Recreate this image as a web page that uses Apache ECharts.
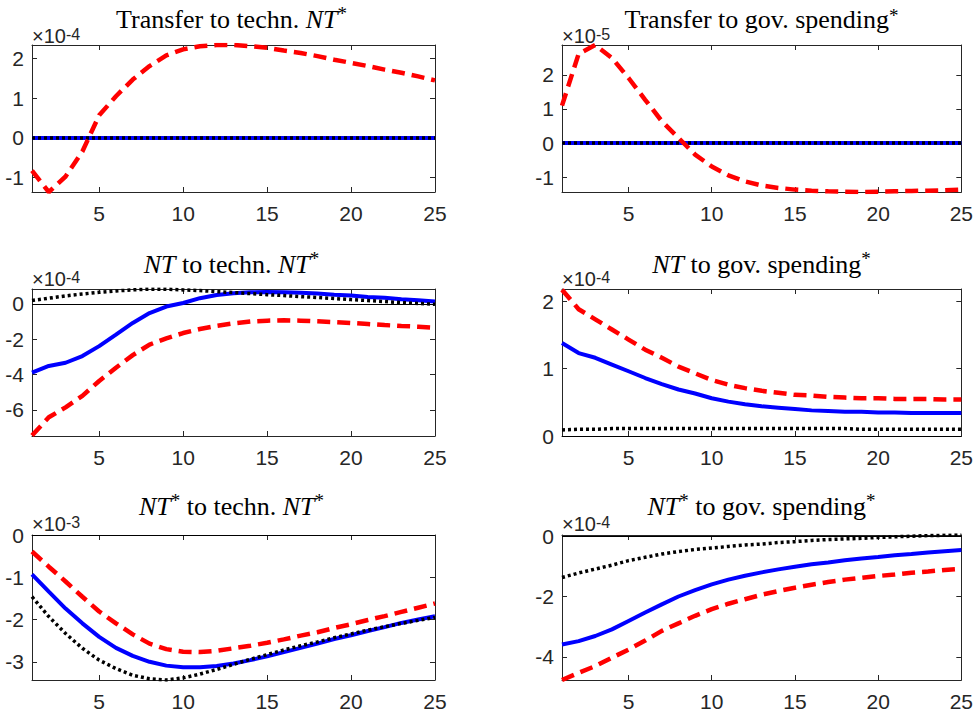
<!DOCTYPE html>
<html><head><meta charset="utf-8">
<script src="https://cdn.jsdelivr.net/npm/echarts@6/dist/echarts.min.js"></script>
<style>html,body{margin:0;padding:0;background:#fff;}#c{width:976px;height:720px;}</style>
</head><body><div id="c"></div>
<script>
// ---- data (values in units of the panel exponent) ----
const periods = [1,2,3,4,5,6,7,8,9,10,11,12,13,14,15,16,17,18,19,20,21,22,23,24,25];
const xTicks = [5,10,15,20,25];

const titles = [
  'Transfer to techn. {i|NT}{s|*}',
  'Transfer to gov. spending{s|*}',
  '{i|NT} to techn. {i|NT}{s|*}',
  '{i|NT} to gov. spending{s|*}',
  '{i|NT}{s|*} to techn. {i|NT}{s|*}',
  '{i|NT}{s|*} to gov. spending{s|*}'
];
const exponents = ['-4','-5','-4','-4','-3','-4'];
const yTicks = [[-1,0,1,2],[-1,0,1,2],[-6,-4,-2,0],[0,1,2],[-3,-2,-1,0],[-4,-2,0]];
const yMin = [-1.36,-1.44,-7.47,0,-3.43,-4.77];
const yMax = [2.34,2.88,0.84,2.18,0,0.04];

// Panel 1: Transfer to techn. NT*
const p1Red   = [-0.82,-1.36,-0.97,-0.34,0.57,1.05,1.47,1.81,2.08,2.23,2.31,2.34,2.34,2.31,2.27,2.2,2.14,2.06,1.97,1.89,1.81,1.72,1.64,1.55,1.45];
const p1Blue  = [0,0,0,0,0,0,0,0,0,0,0,0,0,0,0,0,0,0,0,0,0,0,0,0,0];
const p1Black = [0,0,0,0,0,0,0,0,0,0,0,0,0,0,0,0,0,0,0,0,0,0,0,0,0];
// Panel 2: Transfer to gov. spending*
const p2Red   = [1.1,2.62,2.88,2.5,1.91,1.27,0.64,0.15,-0.34,-0.69,-0.95,-1.13,-1.25,-1.32,-1.37,-1.4,-1.42,-1.43,-1.44,-1.43,-1.42,-1.41,-1.4,-1.39,-1.37];
const p2Blue  = [0,0,0,0,0,0,0,0,0,0,0,0,0,0,0,0,0,0,0,0,0,0,0,0,0];
const p2Black = [0,0,0,0,0,0,0,0,0,0,0,0,0,0,0,0,0,0,0,0,0,0,0,0,0];
// Panel 3: NT to techn. NT*
const p3Red   = [-7.44,-6.41,-5.85,-5.2,-4.36,-3.61,-2.9,-2.3,-1.95,-1.65,-1.42,-1.24,-1.1,-1.0,-0.95,-0.93,-0.95,-0.99,-1.03,-1.08,-1.14,-1.2,-1.25,-1.29,-1.35];
const p3Blue  = [-3.89,-3.51,-3.33,-2.95,-2.39,-1.74,-1.08,-0.52,-0.15,0.05,0.32,0.5,0.6,0.65,0.67,0.65,0.63,0.58,0.52,0.47,0.39,0.34,0.26,0.2,0.13];
const p3Black = [0.19,0.32,0.45,0.56,0.65,0.73,0.79,0.83,0.83,0.79,0.75,0.69,0.64,0.58,0.52,0.47,0.41,0.36,0.3,0.24,0.19,0.13,0.07,0.02,-0.02];
// Panel 4: NT to gov. spending*
const p4Red   = [2.17,1.88,1.73,1.58,1.43,1.28,1.16,1.03,0.93,0.83,0.76,0.71,0.67,0.64,0.61,0.6,0.58,0.57,0.56,0.56,0.55,0.55,0.55,0.54,0.54];
const p4Blue  = [1.38,1.23,1.16,1.06,0.96,0.86,0.77,0.69,0.63,0.56,0.51,0.47,0.44,0.42,0.4,0.38,0.37,0.36,0.36,0.35,0.35,0.34,0.34,0.34,0.34];
const p4Black = [0.09,0.1,0.1,0.11,0.11,0.11,0.11,0.11,0.11,0.11,0.11,0.11,0.11,0.11,0.11,0.11,0.11,0.11,0.1,0.1,0.1,0.1,0.1,0.1,0.1];
// Panel 5: NT* to techn. NT*  (x 1e-3)
const p5Red   = [-0.39,-0.75,-1.1,-1.46,-1.81,-2.09,-2.35,-2.57,-2.7,-2.76,-2.77,-2.74,-2.68,-2.62,-2.55,-2.47,-2.38,-2.3,-2.2,-2.11,-2.01,-1.92,-1.82,-1.72,-1.62];
const p5Blue  = [-0.93,-1.34,-1.74,-2.09,-2.41,-2.67,-2.86,-3.0,-3.09,-3.13,-3.13,-3.1,-3.04,-2.96,-2.87,-2.77,-2.67,-2.57,-2.46,-2.37,-2.27,-2.18,-2.08,-2.0,-1.92];
const p5Black = [-1.46,-1.93,-2.33,-2.68,-2.96,-3.16,-3.32,-3.4,-3.43,-3.38,-3.29,-3.18,-3.06,-2.94,-2.83,-2.72,-2.62,-2.53,-2.43,-2.34,-2.25,-2.17,-2.09,-2.02,-1.95];
// Panel 6: NT* to gov. spending*
const p6Red   = [-4.77,-4.53,-4.31,-4.03,-3.76,-3.46,-3.14,-2.89,-2.64,-2.42,-2.24,-2.09,-1.94,-1.82,-1.71,-1.61,-1.52,-1.44,-1.38,-1.32,-1.27,-1.21,-1.17,-1.12,-1.08];
const p6Blue  = [-3.59,-3.48,-3.31,-3.09,-2.81,-2.53,-2.26,-2.0,-1.79,-1.6,-1.44,-1.31,-1.2,-1.1,-1.01,-0.93,-0.87,-0.8,-0.74,-0.69,-0.63,-0.59,-0.54,-0.5,-0.46];
const p6Black = [-1.37,-1.22,-1.09,-0.96,-0.81,-0.7,-0.59,-0.51,-0.44,-0.39,-0.34,-0.29,-0.26,-0.21,-0.18,-0.14,-0.11,-0.09,-0.07,-0.04,-0.02,0,0.02,0.03,0.04];

const reds   = [p1Red,p2Red,p3Red,p4Red,p5Red,p6Red];
const blues  = [p1Blue,p2Blue,p3Blue,p4Blue,p5Blue,p6Blue];
const blacks = [p1Black,p2Black,p3Black,p4Black,p5Black,p6Black];

// ---- layout & style ----
const AX = '#262626';
const SANS = "'Liberation Sans Narrow','Liberation Sans',Arial,sans-serif";
const SERIF = "'Liberation Serif','Times New Roman',serif";
const grids = [
  {left:32, top:45, width:403, height:147},
  {left:562, top:45, width:403, height:147},
  {left:32, top:289, width:403, height:147},
  {left:562, top:289, width:403, height:147},
  {left:32, top:535, width:403, height:145},
  {left:562, top:535, width:403, height:145}
];
const titleY = [19,19,264,264,506,506];
const expY = [36,36,279,279,524,524];

const pairs = arr => periods.map((t,k)=>[t,arr[k]]);
const xAxis = [], yAxis = [], series = [], graphic = [];
grids.forEach((g,i)=>{
  const tick = {inside:true, length:5, lineStyle:{color:AX,width:1}};
  const line = {show:true, onZero:false, lineStyle:{color:AX,width:1}};
  xAxis.push({gridIndex:i, type:'value', min:1, max:25, position:'bottom',
    axisLine:line, axisTick:Object.assign({customValues:xTicks},tick),
    axisLabel:{customValues:xTicks, color:AX, fontSize:21, fontFamily:SANS, margin:11},
    splitLine:{show:false}});
  xAxis.push({gridIndex:i, type:'value', min:1, max:25, position:'top',
    axisLine:line, axisTick:Object.assign({customValues:xTicks},tick),
    axisLabel:{show:false}, splitLine:{show:false}});
  yAxis.push({gridIndex:i, type:'value', min:yMin[i], max:yMax[i], position:'left',
    axisLine:line, axisTick:Object.assign({customValues:yTicks[i]},tick),
    axisLabel:{customValues:yTicks[i], color:AX, fontSize:21, fontFamily:SANS, margin:8},
    splitLine:{show:false}});
  yAxis.push({gridIndex:i, type:'value', min:yMin[i], max:yMax[i], position:'right',
    axisLine:line, axisTick:Object.assign({customValues:yTicks[i]},tick),
    axisLabel:{show:false}, splitLine:{show:false}});
  const xi = 2*i, yi = 2*i;
  series.push({type:'line', xAxisIndex:xi, yAxisIndex:yi, data:[], z:1, silent:true,
    markLine:{silent:true, symbol:['none','none'], label:{show:false}, z:1,
      lineStyle:{color:'#000', width:1, type:'solid'}, data:[{yAxis:0}], animation:false}});
  series.push({type:'line', xAxisIndex:xi, yAxisIndex:yi, data:pairs(blues[i]), z:3,
    symbol:'none', lineStyle:{color:'#0000ff', width:4, type:'solid'}});
  series.push({type:'line', xAxisIndex:xi, yAxisIndex:yi, data:pairs(blacks[i]), z:4,
    symbol:'none', lineStyle:{color:'#000000', width:3.5, type:[3,3], cap:'butt'}});
  series.push({type:'line', xAxisIndex:xi, yAxisIndex:yi, data:pairs(reds[i]), z:5,
    symbol:'none', lineStyle:{color:'#ff0000', width:4.5, type:[13,7], cap:'butt'}});

  const cx = g.left + g.width/2 - 2;
  graphic.push({type:'text', x:cx, y:titleY[i], z:10, style:{
    text:titles[i], fontSize:26, fontFamily:SERIF, fill:'#000',
    align:'center', verticalAlign:'middle', textAlign:'center', textVerticalAlign:'middle',
    rich:{
      i:{fontStyle:'italic', fontSize:26, fontFamily:SERIF, fill:'#000', lineHeight:30},
      s:{fontSize:19, fontFamily:SERIF, fill:'#000', verticalAlign:'top', lineHeight:18}
    }}});
  graphic.push({type:'text', x:g.left, y:expY[i], z:10, style:{
    text:'\u00d710{e|' + exponents[i] + '}', fontSize:20, fontFamily:SANS, fill:AX,
    align:'left', verticalAlign:'middle', textAlign:'left', textVerticalAlign:'middle',
    rich:{ e:{fontSize:16, fontFamily:SANS, fill:AX, verticalAlign:'top', lineHeight:12} }}});
});

const chart = echarts.init(document.getElementById('c'), null, {renderer:'svg', width:976, height:720});
chart.setOption({
  animation:false,
  backgroundColor:'#ffffff',
  grid:grids.map(g=>Object.assign({containLabel:false}, g)),
  xAxis, yAxis, series, graphic
});
</script></body></html>
